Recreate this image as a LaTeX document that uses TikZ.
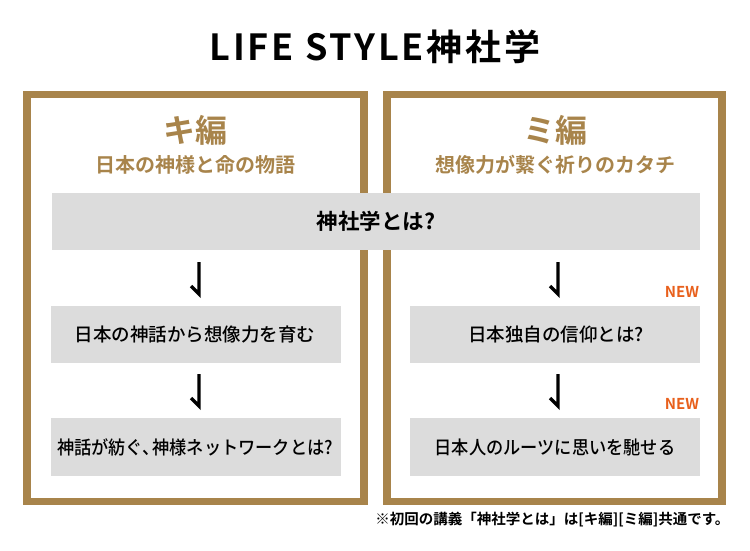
\documentclass[tikz,border=0pt]{standalone}
\usepackage{graphicx}
\usepackage{fontspec}
\setmainfont{Noto Sans CJK JP}[BoldFont={Noto Sans CJK JP Bold}]
\newfontfamily\jpmed{Noto Sans CJK JP Medium}
\definecolor{gold}{HTML}{A8844B}
\definecolor{boxgray}{HTML}{DCDCDC}
\definecolor{neworange}{HTML}{E8601C}
\tikzset{
  frame/.style={draw=gold, line width=7.5pt},
  boxtext/.style={font=\jpmed\fontsize{18.5}{21}\selectfont, text=black},
  hdr/.style={font=\bfseries\fontsize{32}{36}\selectfont, text=gold},
  sub/.style={font=\bfseries\fontsize{20}{24}\selectfont, text=gold},
  newtag/.style={font=\bfseries\fontsize{15}{18}\selectfont, text=neworange},
  hook/.style={line width=3.4pt, draw=black}
}
\begin{document}
\begin{tikzpicture}[x=1pt,y=-1pt]
\useasboundingbox (0,0) rectangle (750,550);
% title
\node[font=\bfseries\fontsize{36}{40}\selectfont\addfontfeature{LetterSpace=8}] (title) at (375,47) {LIFE STYLE神社学};
% frames
\draw[frame] (27,94.5) rectangle (364,501.5);
\draw[frame] (387,94.5) rectangle (722,501.5);
% headers
\node[hdr] (kih) at (195,130) {キ編};
\node[sub] (kis) at (195,165) {日本の神様と命の物語};
\node[hdr] (mih) at (555,130) {ミ編};
\node[sub] (mis) at (555,165) {想像力が繋ぐ祈りのカタチ};
% common box
\fill[boxgray] (52,193) rectangle (700,250);
\node[font=\bfseries\fontsize{21.5}{24}\selectfont] (common) at (376,221.5) {神社学とは?};
% left boxes
\fill[boxgray] (51,306) rectangle (341,363);
\node[boxtext] (k1) at (195,334.5) {日本の神話から想像力を育む};
\fill[boxgray] (51,418) rectangle (341,476);
\node[boxtext] (k2) at (195,447) {\scalebox{0.93}[1]{神話が紡ぐ、\kern-8pt 神様ネットワークとは?}};
% right boxes
\fill[boxgray] (410,306) rectangle (700,363);
\node[boxtext] (m1) at (556,334.5) {日本独自の信仰とは?};
\fill[boxgray] (410,418) rectangle (700,476);
\node[boxtext] (m2) at (555,447) {\scalebox{0.93}[1]{日本人のルーツに思いを馳せる}};
% hook arrows
\draw[hook] (199,262) -- (199,294) -- (191,286);
\draw[hook] (199,374) -- (199,406) -- (191,398);
\draw[hook] (558,262) -- (558,294) -- (550,286);
\draw[hook] (558,374) -- (558,406) -- (550,398);
% NEW tags
\node[newtag] (new1) at (682,292) {NEW};
\node[newtag] (new2) at (682,404) {NEW};
% footnote
\node[font=\bfseries\fontsize{14.5}{16}\selectfont, anchor=east] (note) at (733,520) {※初回の講義「神社学とは」は[キ編][ミ編]共通です。};
\end{tikzpicture}
\end{document}
